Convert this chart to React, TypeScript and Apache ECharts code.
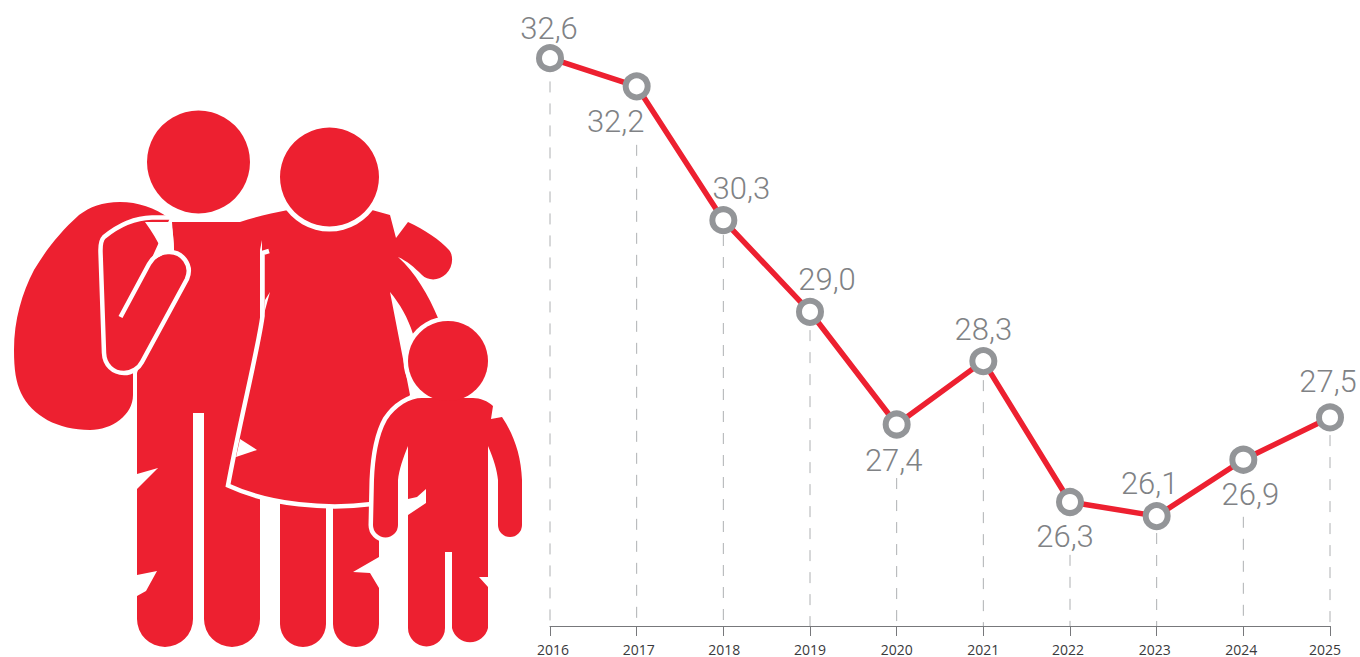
import React, { useEffect, useRef } from "react";
import * as echarts from "echarts";

const years = ["2016", "2017", "2018", "2019", "2020", "2021", "2022", "2023", "2024", "2025"];
const values = [32.6, 32.2, 30.3, 29.0, 27.4, 28.3, 26.3, 26.1, 26.9, 27.5];
const dropTops = [32.27, 31.37, 30.09, 28.74, 26.64, 28.03, 25.55, 25.86, 26.09, 27.25];
const labelNudges = [[-1, -30], [-21, 35], [18, -32], [17, -32], [-3, 36], [0, -32], [-5, 34], [-7, -33], [7, 35], [-2, -36]];
const tickLabelShifts = [3, 2, 1, 0, 0, 0, -2, -2, -2, -5];

const RED = "#ed2030";
const GREY = "#939598";

const shapes: Record<string, string> = {
  bag: "M169 218 C155 208 138 202 120 202 C102 202 90 207 79 215 C60 232 46 250 34 270 C22 293 14 320 14 350 C14 370 16 382 21 393 C32 416 58 430 90 430 C112 430 133 415 133 395 L133 340 L110 240 Z",
  man: "M172 222 L262 222 L262 240 L260 250 L260 619 A28 28 0 0 1 204 619 L204 413 L193 413 L193 619 A28 28 0 0 1 137 619 L137 596 L146 591 L157 571 L137 575 L137 489 L158 468 L137 474 L137 373 L150 330 L174 250 Z",
  womanLegs: "M280 500 L326 500 L326 624 A23 23 0 0 1 280 624 Z M333 500 L379 500 L379 557 L353 572 L370 573 L379 588 L379 624 A23 23 0 0 1 333 624 Z",
  armFill: "M170 218 L152 218 C132 218 115 228 104 237 C100 241 100 247 100 252 L104 353 C104 365 113 373 124 373 C132 373 139 368 142 362 L187 279 C193 265 182 251 168 252 L150 262 Z",
  armLine: "M170 217.5 L152 217.5 C132 218 115 228 104 237 C100 241 100.5 247 100.5 252 L104 353 C104.5 365 113 373 124 373 C132 373 139 368 142 362 L187 279 C193 265 182 251 168 252 C160 252 153 257 149 264 L120.5 317",
  wedge: "M145 222 L171 222 C173 232 174 241 174 251 L168 250 C165 250 164 250 162 251 C158 241 152 232 145 222 Z",
  woman: "M240 222 C255 217 272 213 288 210 L372 210 L390 215 L396 238 L408 222 C425 230 440 240 449 250 C454 256 453 267 446 274 C439 281 428 281 422 275 C414 267 407 261 398 257 C415 272 429 296 438 318 L420 340 L413 334 C408 318 400 304 390 292 L410 395 L385 430 L373 480 L371 503 C327 509 270 505 226 486 L262 316 L262 222 Z",
  dressLine: "M269 251 L262.500 253 L262.500 316 C258 350 240 420 228 485.500 C270 505 327 510 372 504",
  dressSliver: "M264 314 L265 300 L270 292 Z",
  dressNotch: "M240 439 L257 450 L236 457 Z",
  child: "M422 398 C410 398 396 406 387 420 C378 436 375 458 374 480 L373 525 A12.500 12.500 0 0 0 398 525 L398 480 C399 470 403 458 408 446 L408 499 L417 497 L426 489 L426 503 L408 515 L408 628 A18.500 18.500 0 0 0 445 628 L445 552 L452 552 L452 628 A18.500 18.500 0 0 0 488 628 L488 587 L479 577 L488 577 L488 446 C494 460 497 470 498 480 L498 525 A12 12 0 0 0 522 525 L522 480 C521 455 514 435 502 417 L491 419 L493 406 C488 401 480 398 473 398 Z",
};

Object.entries(shapes).forEach(([name, d]) => {
  echarts.graphic.registerShape(name, echarts.graphic.extendPath(d, {}));
});

const fillEl = (type: string, fill: string) => ({ type, x: 0, y: 0, silent: true, style: { fill } });

const icon = [
  fillEl("bag", RED),
  fillEl("man", RED),
  fillEl("womanLegs", RED),
  fillEl("armFill", RED),
  { type: "armLine", x: 0, y: 0, silent: true, style: { fill: "none", stroke: "#fff", lineWidth: 4.5 } },
  fillEl("wedge", "#fff"),
  fillEl("woman", RED),
  { type: "dressLine", x: 0, y: 0, silent: true, style: { fill: "none", stroke: "#fff", lineWidth: 4.5 } },
  fillEl("dressSliver", "#fff"),
  fillEl("dressNotch", "#fff"),
  { type: "circle", silent: true, shape: { cx: 198.5, cy: 162, r: 51.5 }, style: { fill: RED } },
  { type: "circle", silent: true, shape: { cx: 329.5, cy: 177, r: 54.5 }, style: { fill: "#fff" } },
  { type: "circle", silent: true, shape: { cx: 329.5, cy: 177, r: 49.5 }, style: { fill: RED } },
  { type: "child", x: 0, y: 0, silent: true, style: { fill: "#fff", stroke: "#fff", lineWidth: 9 } },
  { type: "circle", silent: true, shape: { cx: 448, cy: 361, r: 44.5 }, style: { fill: "#fff" } },
  fillEl("child", RED),
  { type: "circle", silent: true, shape: { cx: 448, cy: 361, r: 40 }, style: { fill: RED } },
];

const tickRich: Record<string, any> = {};
tickLabelShifts.forEach((s, i) => {
  tickRich["t" + i] = {
    color: "#3a3a3c",
    fontFamily: "Open Sans",
    fontSize: 14,
    lineHeight: 14,
    padding: s > 0 ? [0, 0, 0, 2 * s] : [0, -2 * s, 0, 0],
  };
});

export default function App() {
  const ref = useRef<HTMLDivElement>(null);
  useEffect(() => {
    document.body.style.margin = "0";
    const chart = echarts.init(ref.current!, null, { renderer: "svg" });
    chart.setOption({
      animation: false,
      backgroundColor: "#fff",
      graphic: { elements: icon },
      grid: { left: 550, right: 30, top: 30, height: 596 },
      xAxis: {
        type: "category",
        data: years,
        boundaryGap: false,
        axisLine: { lineStyle: { color: "#77787b", width: 1 } },
        axisTick: { length: 10, alignWithLabel: true, lineStyle: { color: "#77787b", width: 1 } },
        axisLabel: {
          margin: 16,
          interval: 0,
          showMinLabel: true,
          showMaxLabel: true,
          formatter: (v: string, i: number) => `{t${i}|${v}}`,
          rich: tickRich,
        },
      },
      yAxis: { type: "value", min: 24.54, max: 33, show: false, splitLine: { show: false } },
      series: [
        {
          type: "custom",
          silent: true,
          z: 1,
          clip: false,
          data: dropTops.map((v, i) => [i, v]),
          renderItem: (_p: any, api: any) => {
            const start = api.coord([api.value(0), api.value(1)]);
            const end = api.coord([api.value(0), 24.54]);
            return {
              type: "line",
              shape: { x1: start[0], y1: start[1], x2: end[0], y2: end[1] },
              style: { stroke: "#aeb0b2", lineWidth: 1, lineDash: [11, 11], fill: "none" },
            };
          },
        },
        {
          type: "line",
          z: 3,
          clip: false,
          symbol: "circle",
          symbolSize: 22,
          showSymbol: true,
          lineStyle: { color: RED, width: 5.5 },
          itemStyle: { color: "#fff", borderColor: GREY, borderWidth: 6 },
          data: values.map((v, i) => ({
            value: v,
            label: { offset: labelNudges[i] },
          })),
          label: {
            show: true,
            position: "inside",
            align: "center",
            verticalAlign: "middle",
            color: "#808285",
            fontFamily: "Roboto",
            fontWeight: 300,
            fontSize: 31,
            formatter: (p: any) => (typeof p.value === "number" ? p.value : p.data.value).toFixed(1).replace(".", ","),
          },
        },
      ],
    });
    return () => chart.dispose();
  }, []);
  return <div ref={ref} style={{ width: 1360, height: 657 }} />;
}
